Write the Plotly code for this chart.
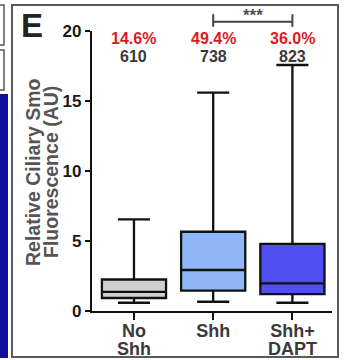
import plotly.graph_objects as go

# Box-plot summary statistics per condition
tick_line1 = ["No", "Shh", "Shh+"]
tick_line2 = ["Shh", "", "DAPT"]
q1 = [0.93, 1.45, 1.21]
median = [1.36, 2.93, 1.98]
q3 = [2.25, 5.66, 4.79]
lower_whisker = [0.59, 0.66, 0.59]
upper_whisker = [6.55, 15.6, 17.57]
pct_labels = ["14.6%", "49.4%", "36.0%"]
n_labels = ["610", "738", "823"]
y_ticks = [0, 5, 10, 15, 20]
fills = ["#d0d0d0", "#90b8f8", "#5050f2"]

FONT = "Liberation Sans, Arial, sans-serif"
W, H = 344, 360
ML, MR, MT, MB = 92, 12, 31, 49
PW, PH = W - ML - MR, H - MT - MB


def px_x(px):
    return (px - ML) / PW


def px_y(py):
    return (H - MB - py) / PH


fig = go.Figure()
for i in range(len(tick_line1)):
    fig.add_trace(go.Box(
        x=[i], q1=[q1[i]], median=[median[i]], q3=[q3[i]],
        lowerfence=[lower_whisker[i]], upperfence=[upper_whisker[i]],
        width=0.81, whiskerwidth=0.5, boxpoints=False,
        fillcolor=fills[i], line=dict(color="#111111", width=2.3),
        showlegend=False, hoverinfo="skip",
    ))

annotations = []
for i in range(len(tick_line1)):
    annotations.append(dict(x=i, y=19.5, xref="x", yref="y", text=pct_labels[i],
                            showarrow=False, font=dict(family=FONT, size=16, color="#e0191f", weight="bold")))
    annotations.append(dict(x=i, y=18.2, xref="x", yref="y", text=n_labels[i],
                            showarrow=False, font=dict(family=FONT, size=16, color="#3a3a3a", weight="bold")))
    if tick_line2[i]:
        # second line of the category label, set tighter than the default line spacing
        annotations.append(dict(x=i, y=px_y(349), xref="x", yref="paper", yanchor="middle",
                                text=tick_line2[i], showarrow=False,
                                font=dict(family=FONT, size=18, color="#3a3a3a", weight="bold")))

# significance bracket between Shh and Shh+DAPT
ymax = y_ticks[-1]
br_y, br_lo, br_hi = 20.66, 20.3, 21.2
shapes = [
    dict(type="line", xref="x", yref="paper", x0=1, x1=2, y0=br_y / ymax, y1=br_y / ymax,
         line=dict(color="#444444", width=2)),
    dict(type="line", xref="x", yref="paper", x0=1, x1=1, y0=br_lo / ymax, y1=br_hi / ymax,
         line=dict(color="#444444", width=2)),
    dict(type="line", xref="x", yref="paper", x0=2, x1=2, y0=br_lo / ymax, y1=br_hi / ymax,
         line=dict(color="#444444", width=2)),
]
annotations.append(dict(x=1.5, y=br_y / ymax, xref="x", yref="paper", yanchor="bottom", yshift=-5,
                        text="***", showarrow=False,
                        font=dict(family=FONT, size=17, color="#505050", weight="bold")))

# panel frame and neighbouring panel edges
shapes += [
    dict(type="rect", xref="paper", yref="paper", x0=px_x(12), x1=px_x(338), y0=px_y(357), y1=px_y(5),
         line=dict(color="#5a5a5a", width=2), layer="below"),
    dict(type="rect", xref="paper", yref="paper", x0=px_x(-3), x1=px_x(4), y0=px_y(45), y1=px_y(5),
         line=dict(color="#5a5a5a", width=1.5), layer="below"),
    dict(type="rect", xref="paper", yref="paper", x0=px_x(-3), x1=px_x(4), y0=px_y(90), y1=px_y(50),
         line=dict(color="#5a5a5a", width=1.5), layer="below"),
    dict(type="rect", xref="paper", yref="paper", x0=px_x(0), x1=px_x(8), y0=px_y(358), y1=px_y(94),
         line=dict(width=0), fillcolor="#10109a", layer="below"),
]

# panel letter
annotations.append(dict(x=px_x(32), y=px_y(25), xref="paper", yref="paper", xanchor="center",
                        yanchor="middle", text="E", showarrow=False,
                        font=dict(family=FONT, size=33, color="#222222", weight="bold")))
# y-axis title, two lines
annotations.append(dict(x=px_x(33), y=px_y(172), xref="paper", yref="paper", xanchor="center",
                        yanchor="middle", text="Relative Ciliary Smo",
                        textangle=-90, showarrow=False,
                        font=dict(family=FONT, size=19.5, color="#555555", weight="bold")))
annotations.append(dict(x=px_x(51), y=px_y(172), xref="paper", yref="paper", xanchor="center",
                        yanchor="middle", text="Fluorescence (AU)",
                        textangle=-90, showarrow=False,
                        font=dict(family=FONT, size=19.5, color="#555555", weight="bold")))

fig.update_layout(
    width=W, height=H, margin=dict(l=ML, r=MR, t=MT, b=MB),
    paper_bgcolor="white", plot_bgcolor="white",
    shapes=shapes, annotations=annotations,
    xaxis=dict(range=[-0.53, 2.5], tickmode="array", tickvals=list(range(len(tick_line1))),
               ticktext=tick_line1, showline=True, linecolor="#111111", linewidth=2.2,
               ticks="outside", ticklen=7, tickwidth=2, tickcolor="#111111",
               ticklabelstandoff=-5,
               showgrid=False, zeroline=False, automargin=False,
               tickfont=dict(family=FONT, size=18, color="#3a3a3a", weight="bold")),
    yaxis=dict(range=[0, 20], tickmode="array", tickvals=y_ticks,
               showline=True, linecolor="#111111", linewidth=2.2,
               ticks="outside", ticklen=5, tickwidth=2, tickcolor="#111111",
               showgrid=False, zeroline=False, automargin=False,
               tickfont=dict(family=FONT, size=17, color="#1a1a1a", weight="bold")),
)

fig.write_html("out.html")
